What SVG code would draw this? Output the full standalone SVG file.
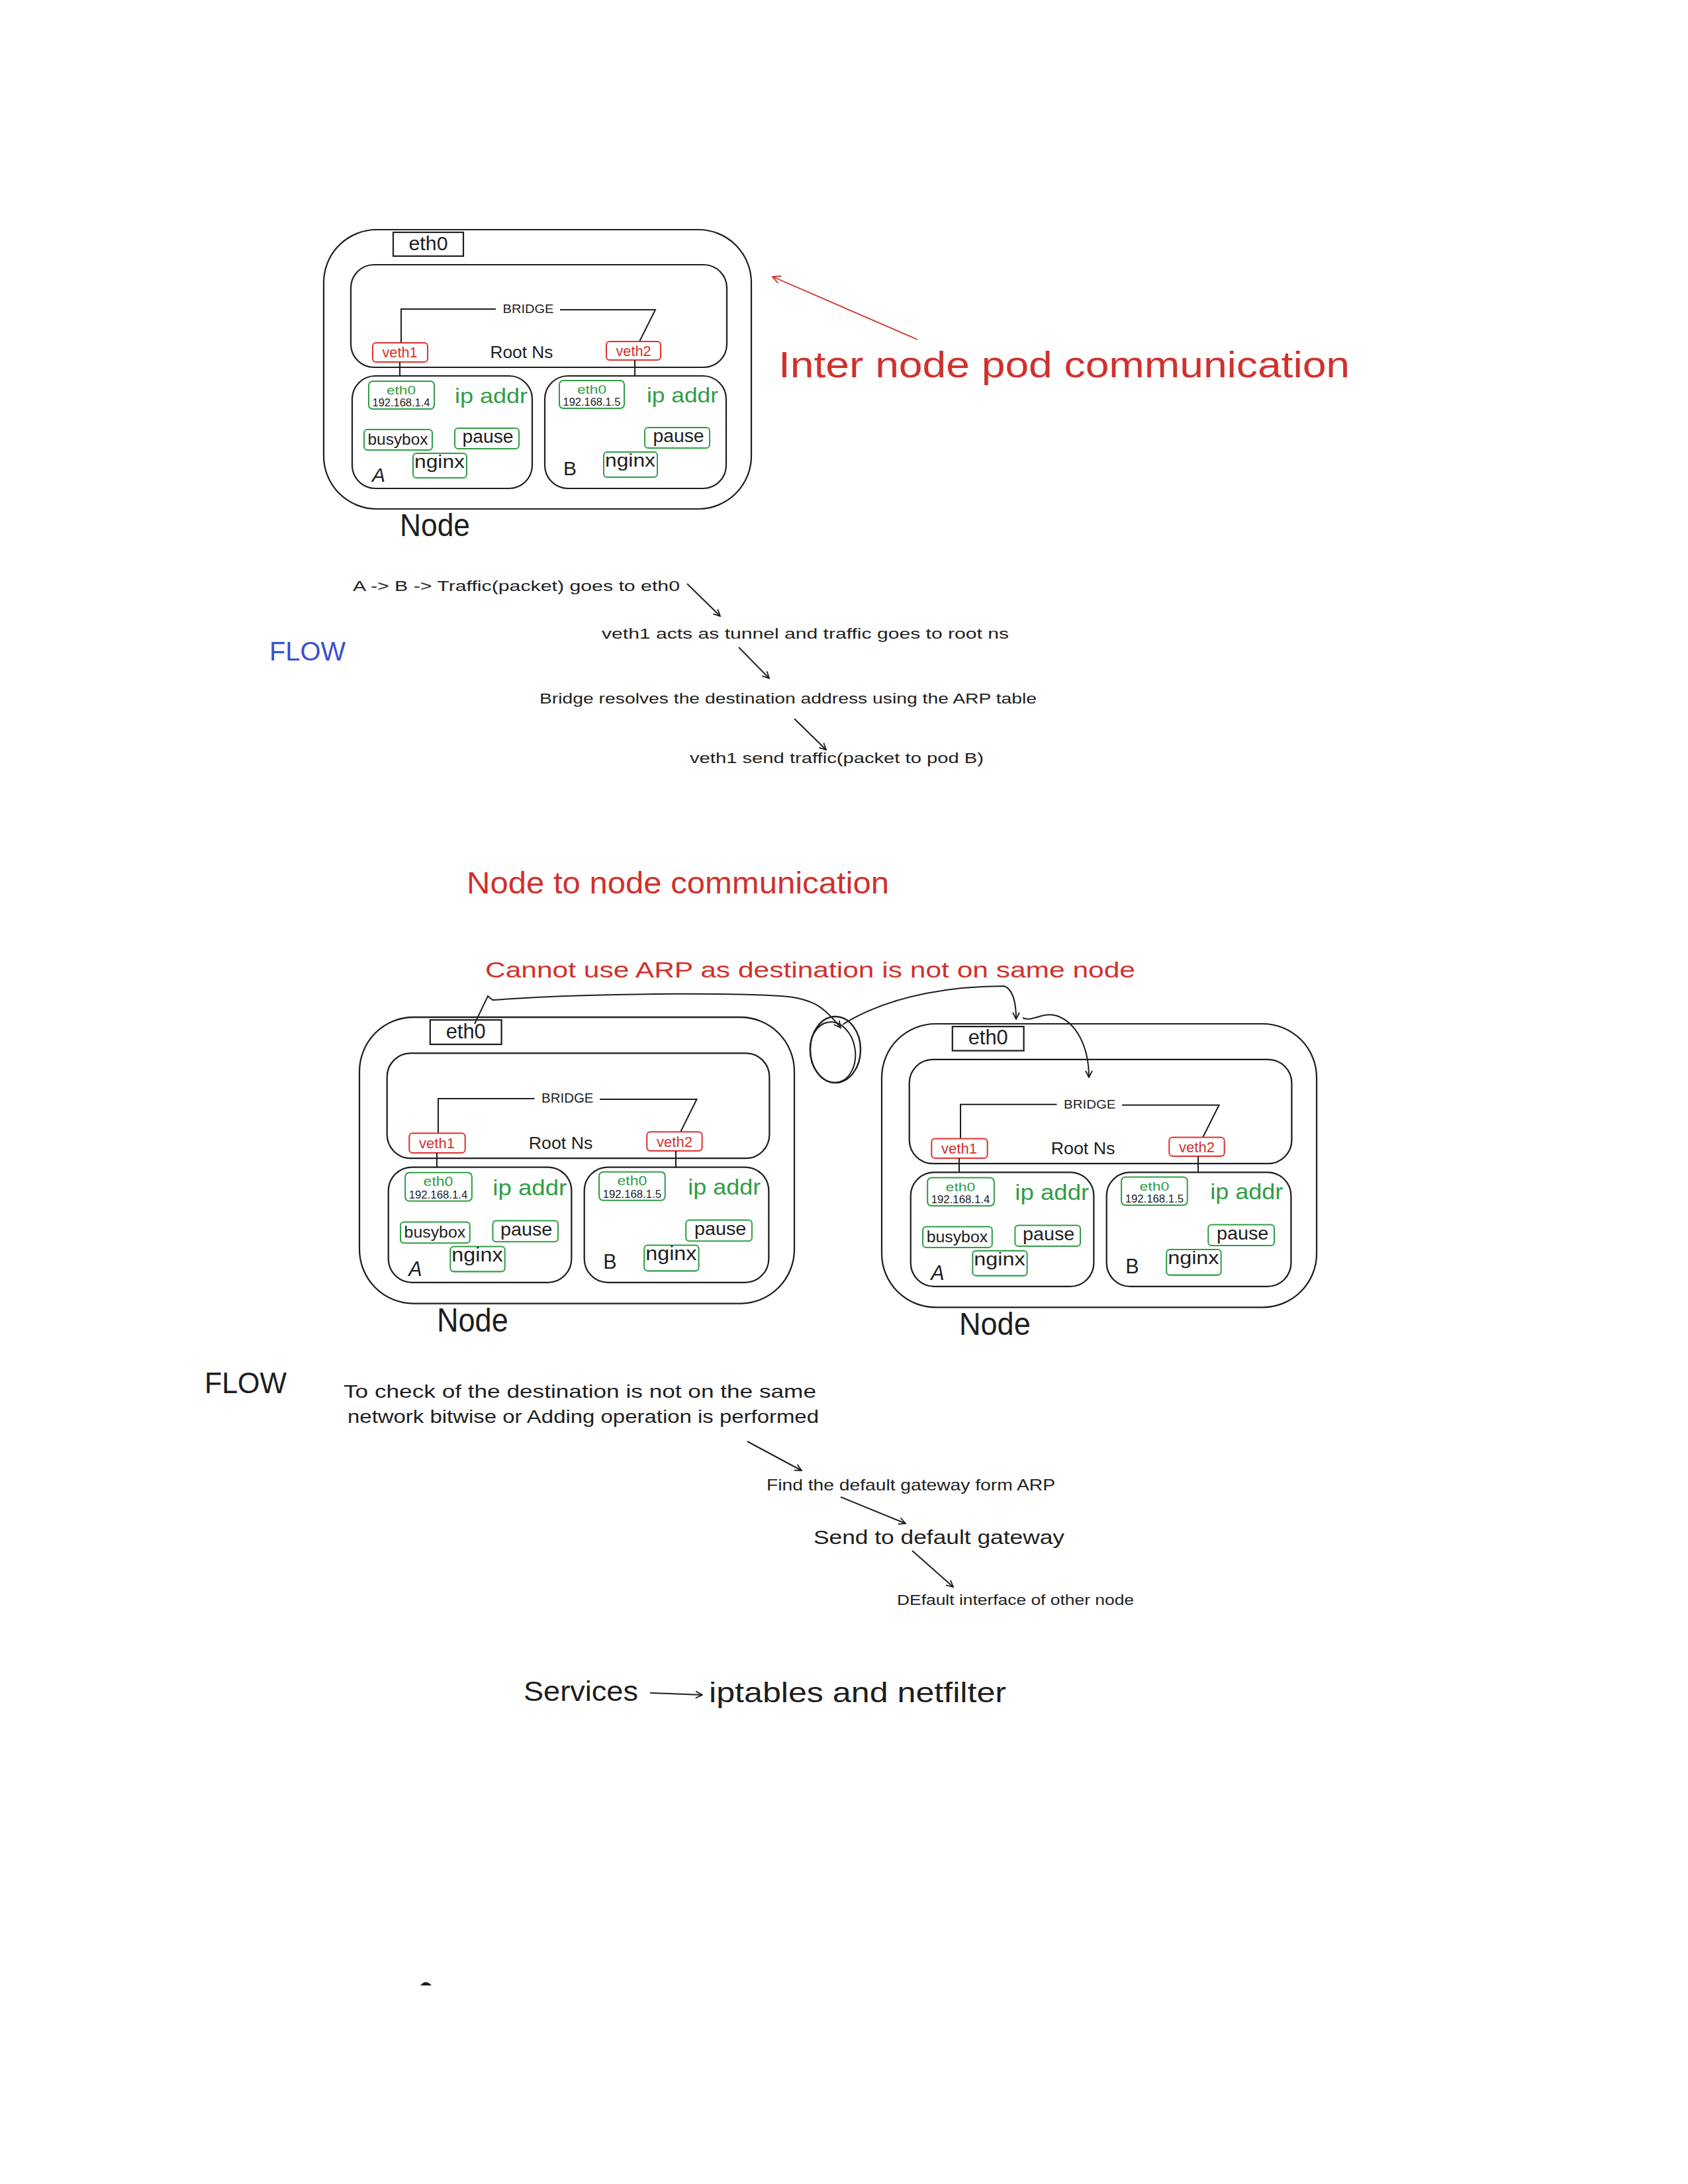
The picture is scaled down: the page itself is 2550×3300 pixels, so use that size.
<svg xmlns="http://www.w3.org/2000/svg" width="2550" height="3300" viewBox="0 0 2550 3300">
<style>
text{font-family:"Liberation Sans",Arial,sans-serif;fill:#1e1e1e}
.box{fill:none;stroke:#1e1e1e;stroke-width:2.2}
.gbox{fill:none;stroke:#2f9e44;stroke-width:2}
.rbox{fill:none;stroke:#e03131;stroke-width:2}
.ln{fill:none;stroke:#1e1e1e;stroke-width:2}
.c{text-anchor:middle}
.red{fill:#d0312d}
.green{fill:#2f9e44}
.blue{fill:#3b4fd0}
.arr{fill:none;stroke:#1e1e1e;stroke-width:2;marker-end:url(#ah)}
.rarr{fill:none;stroke:#d0312d;stroke-width:1.8;marker-end:url(#rah)}
</style>
<defs>
<marker id="ah" viewBox="0 0 12 12" refX="11" refY="6" markerWidth="12" markerHeight="12" markerUnits="userSpaceOnUse" orient="auto"><path d="M1,1 L11,6 L1,11" fill="none" stroke="#1e1e1e" stroke-width="1.8"/></marker>
<marker id="rah" viewBox="0 0 12 12" refX="11" refY="6" markerWidth="14" markerHeight="14" markerUnits="userSpaceOnUse" orient="auto"><path d="M1,1 L11,6 L1,11" fill="none" stroke="#d0312d" stroke-width="1.6"/></marker>
</defs>
<rect width="2550" height="3300" fill="#ffffff"/>

<!-- Node 1 (top) -->
<g id="node-top" transform="translate(489,347)">
<rect class="box" x="0" y="0" width="646" height="422" rx="80"/>
<rect class="box" x="105" y="4" width="106" height="36"/>
<text class="c" x="158" y="31" font-size="30" textLength="59" lengthAdjust="spacingAndGlyphs">eth0</text>
<rect class="box" x="41" y="53" width="568" height="155" rx="35"/>
<path class="ln" d="M117,171 V120 H260 M357,121 H501 L477,169"/>
<text class="c" x="309" y="126" font-size="19" textLength="77" lengthAdjust="spacingAndGlyphs">BRIDGE</text>
<rect class="rbox" x="74" y="171" width="83" height="29" rx="5"/>
<text class="c red" x="115" y="193" font-size="22" textLength="53" lengthAdjust="spacingAndGlyphs">veth1</text>
<text class="c" x="299" y="194" font-size="25" textLength="95" lengthAdjust="spacingAndGlyphs">Root Ns</text>
<rect class="rbox" x="427" y="169" width="82" height="28" rx="5"/>
<text class="c red" x="468" y="191" font-size="22" textLength="53" lengthAdjust="spacingAndGlyphs">veth2</text>
<path class="ln" d="M115,200 V221 M470,197 V221"/>
<g id="pod-a-top">
<rect class="box" x="43" y="221" width="272" height="170" rx="35"/>
<rect class="gbox" x="68" y="229" width="99" height="42" rx="6"/>
<text class="c green" x="117" y="249" font-size="19" textLength="44" lengthAdjust="spacingAndGlyphs">eth0</text>
<text class="c" x="117" y="267" font-size="16" textLength="87" lengthAdjust="spacingAndGlyphs">192.168.1.4</text>
<text class="green" x="198" y="262" font-size="32" textLength="110" lengthAdjust="spacingAndGlyphs">ip addr</text>
<rect class="gbox" x="61" y="302" width="103" height="31" rx="5"/>
<text class="c" x="112" y="325" font-size="24" textLength="91" lengthAdjust="spacingAndGlyphs">busybox</text>
<rect class="gbox" x="198" y="300" width="97" height="31" rx="5"/>
<text class="c" x="248" y="322" font-size="27" textLength="77" lengthAdjust="spacingAndGlyphs">pause</text>
<rect class="gbox" x="135" y="338" width="81" height="37" rx="5"/>
<text class="c" x="175" y="360" font-size="28" textLength="76" lengthAdjust="spacingAndGlyphs">nginx</text>
<text x="73" y="381" font-size="30" font-style="italic">A</text>
</g>
<g id="pod-b-top">
<rect class="box" x="334" y="221" width="274" height="170" rx="35"/>
<rect class="gbox" x="356" y="228" width="98" height="42" rx="6"/>
<text class="c green" x="405" y="248" font-size="19" textLength="44" lengthAdjust="spacingAndGlyphs">eth0</text>
<text class="c" x="405" y="266" font-size="16" textLength="87" lengthAdjust="spacingAndGlyphs">192.168.1.5</text>
<text class="green" x="488" y="261" font-size="32" textLength="108" lengthAdjust="spacingAndGlyphs">ip addr</text>
<rect class="gbox" x="485" y="299" width="98" height="31" rx="5"/>
<text class="c" x="536" y="321" font-size="27" textLength="77" lengthAdjust="spacingAndGlyphs">pause</text>
<rect class="gbox" x="423" y="336" width="81" height="38" rx="5"/>
<text class="c" x="463" y="358" font-size="28" textLength="76" lengthAdjust="spacingAndGlyphs">nginx</text>
<text x="362" y="371" font-size="30">B</text>
</g>
<text x="115" y="463" font-size="48" textLength="106" lengthAdjust="spacingAndGlyphs">Node</text>
</g>

<!-- Node 2 (bottom left) -->
<g id="node-left" transform="translate(543,1537) scale(1.017,1.025)">
<rect class="box" x="0" y="0" width="646" height="422" rx="80"/>
<rect class="box" x="105" y="4" width="106" height="36"/>
<text class="c" x="158" y="31" font-size="30" textLength="59" lengthAdjust="spacingAndGlyphs">eth0</text>
<rect class="box" x="41" y="53" width="568" height="155" rx="35"/>
<path class="ln" d="M117,171 V120 H260 M357,121 H501 L477,169"/>
<text class="c" x="309" y="126" font-size="19" textLength="77" lengthAdjust="spacingAndGlyphs">BRIDGE</text>
<rect class="rbox" x="74" y="171" width="83" height="29" rx="5"/>
<text class="c red" x="115" y="193" font-size="22" textLength="53" lengthAdjust="spacingAndGlyphs">veth1</text>
<text class="c" x="299" y="194" font-size="25" textLength="95" lengthAdjust="spacingAndGlyphs">Root Ns</text>
<rect class="rbox" x="427" y="169" width="82" height="28" rx="5"/>
<text class="c red" x="468" y="191" font-size="22" textLength="53" lengthAdjust="spacingAndGlyphs">veth2</text>
<path class="ln" d="M115,200 V221 M470,197 V221"/>
<g id="pod-a-left">
<rect class="box" x="43" y="221" width="272" height="170" rx="35"/>
<rect class="gbox" x="68" y="229" width="99" height="42" rx="6"/>
<text class="c green" x="117" y="249" font-size="19" textLength="44" lengthAdjust="spacingAndGlyphs">eth0</text>
<text class="c" x="117" y="267" font-size="16" textLength="87" lengthAdjust="spacingAndGlyphs">192.168.1.4</text>
<text class="green" x="198" y="262" font-size="32" textLength="110" lengthAdjust="spacingAndGlyphs">ip addr</text>
<rect class="gbox" x="61" y="302" width="103" height="31" rx="5"/>
<text class="c" x="112" y="325" font-size="24" textLength="91" lengthAdjust="spacingAndGlyphs">busybox</text>
<rect class="gbox" x="198" y="300" width="97" height="31" rx="5"/>
<text class="c" x="248" y="322" font-size="27" textLength="77" lengthAdjust="spacingAndGlyphs">pause</text>
<rect class="gbox" x="135" y="338" width="81" height="37" rx="5"/>
<text class="c" x="175" y="360" font-size="28" textLength="76" lengthAdjust="spacingAndGlyphs">nginx</text>
<text x="73" y="381" font-size="30" font-style="italic">A</text>
</g>
<g id="pod-b-left">
<rect class="box" x="334" y="221" width="274" height="170" rx="35"/>
<rect class="gbox" x="356" y="228" width="98" height="42" rx="6"/>
<text class="c green" x="405" y="248" font-size="19" textLength="44" lengthAdjust="spacingAndGlyphs">eth0</text>
<text class="c" x="405" y="266" font-size="16" textLength="87" lengthAdjust="spacingAndGlyphs">192.168.1.5</text>
<text class="green" x="488" y="261" font-size="32" textLength="108" lengthAdjust="spacingAndGlyphs">ip addr</text>
<rect class="gbox" x="485" y="299" width="98" height="31" rx="5"/>
<text class="c" x="536" y="321" font-size="27" textLength="77" lengthAdjust="spacingAndGlyphs">pause</text>
<rect class="gbox" x="423" y="336" width="81" height="38" rx="5"/>
<text class="c" x="463" y="358" font-size="28" textLength="76" lengthAdjust="spacingAndGlyphs">nginx</text>
<text x="362" y="371" font-size="30">B</text>
</g>
<text x="115" y="463" font-size="48" textLength="106" lengthAdjust="spacingAndGlyphs">Node</text>
</g>

<!-- Node 3 (bottom right) -->
<g id="node-right" transform="translate(1332,1547) scale(1.017,1.015)">
<rect class="box" x="0" y="0" width="646" height="422" rx="80"/>
<rect class="box" x="105" y="4" width="106" height="36"/>
<text class="c" x="158" y="31" font-size="30" textLength="59" lengthAdjust="spacingAndGlyphs">eth0</text>
<rect class="box" x="41" y="53" width="568" height="155" rx="35"/>
<path class="ln" d="M117,171 V120 H260 M357,121 H501 L477,169"/>
<text class="c" x="309" y="126" font-size="19" textLength="77" lengthAdjust="spacingAndGlyphs">BRIDGE</text>
<rect class="rbox" x="74" y="171" width="83" height="29" rx="5"/>
<text class="c red" x="115" y="193" font-size="22" textLength="53" lengthAdjust="spacingAndGlyphs">veth1</text>
<text class="c" x="299" y="194" font-size="25" textLength="95" lengthAdjust="spacingAndGlyphs">Root Ns</text>
<rect class="rbox" x="427" y="169" width="82" height="28" rx="5"/>
<text class="c red" x="468" y="191" font-size="22" textLength="53" lengthAdjust="spacingAndGlyphs">veth2</text>
<path class="ln" d="M115,200 V221 M470,197 V221"/>
<g id="pod-a-right">
<rect class="box" x="43" y="221" width="272" height="170" rx="35"/>
<rect class="gbox" x="68" y="229" width="99" height="42" rx="6"/>
<text class="c green" x="117" y="249" font-size="19" textLength="44" lengthAdjust="spacingAndGlyphs">eth0</text>
<text class="c" x="117" y="267" font-size="16" textLength="87" lengthAdjust="spacingAndGlyphs">192.168.1.4</text>
<text class="green" x="198" y="262" font-size="32" textLength="110" lengthAdjust="spacingAndGlyphs">ip addr</text>
<rect class="gbox" x="61" y="302" width="103" height="31" rx="5"/>
<text class="c" x="112" y="325" font-size="24" textLength="91" lengthAdjust="spacingAndGlyphs">busybox</text>
<rect class="gbox" x="198" y="300" width="97" height="31" rx="5"/>
<text class="c" x="248" y="322" font-size="27" textLength="77" lengthAdjust="spacingAndGlyphs">pause</text>
<rect class="gbox" x="135" y="338" width="81" height="37" rx="5"/>
<text class="c" x="175" y="360" font-size="28" textLength="76" lengthAdjust="spacingAndGlyphs">nginx</text>
<text x="73" y="381" font-size="30" font-style="italic">A</text>
</g>
<g id="pod-b-right">
<rect class="box" x="334" y="221" width="274" height="170" rx="35"/>
<rect class="gbox" x="356" y="228" width="98" height="42" rx="6"/>
<text class="c green" x="405" y="248" font-size="19" textLength="44" lengthAdjust="spacingAndGlyphs">eth0</text>
<text class="c" x="405" y="266" font-size="16" textLength="87" lengthAdjust="spacingAndGlyphs">192.168.1.5</text>
<text class="green" x="488" y="261" font-size="32" textLength="108" lengthAdjust="spacingAndGlyphs">ip addr</text>
<rect class="gbox" x="485" y="299" width="98" height="31" rx="5"/>
<text class="c" x="536" y="321" font-size="27" textLength="77" lengthAdjust="spacingAndGlyphs">pause</text>
<rect class="gbox" x="423" y="336" width="81" height="38" rx="5"/>
<text class="c" x="463" y="358" font-size="28" textLength="76" lengthAdjust="spacingAndGlyphs">nginx</text>
<text x="362" y="371" font-size="30">B</text>
</g>
<text x="115" y="463" font-size="48" textLength="106" lengthAdjust="spacingAndGlyphs">Node</text>
</g>

<!-- Labels -->
<g id="labels">
<text class="red" x="1176" y="570" font-size="56" textLength="863" lengthAdjust="spacingAndGlyphs">Inter node pod communication</text>
<text class="blue" x="407" y="998" font-size="40" textLength="115" lengthAdjust="spacingAndGlyphs">FLOW</text>
<text x="533" y="893" font-size="22" textLength="494" lengthAdjust="spacingAndGlyphs">A -&gt; B -&gt; Traffic(packet) goes to eth0</text>
<text x="909" y="965" font-size="22" textLength="615" lengthAdjust="spacingAndGlyphs">veth1 acts as tunnel and traffic goes to root ns</text>
<text x="815" y="1063" font-size="22" textLength="751" lengthAdjust="spacingAndGlyphs">Bridge resolves the destination address using the ARP table</text>
<text x="1042" y="1153" font-size="22" textLength="444" lengthAdjust="spacingAndGlyphs">veth1 send traffic(packet to pod B)</text>
<text class="red" x="705" y="1350" font-size="46" textLength="638" lengthAdjust="spacingAndGlyphs">Node to node communication</text>
<text class="red" x="733" y="1477" font-size="34" textLength="982" lengthAdjust="spacingAndGlyphs">Cannot use ARP as destination is not on same node</text>
<text x="309" y="2105" font-size="44" textLength="124" lengthAdjust="spacingAndGlyphs">FLOW</text>
<text x="519" y="2112" font-size="28" textLength="714" lengthAdjust="spacingAndGlyphs">To check of the destination is not on the same</text>
<text x="525" y="2150" font-size="28" textLength="712" lengthAdjust="spacingAndGlyphs">network bitwise or Adding operation is performed</text>
<text x="1158" y="2252" font-size="24" textLength="436" lengthAdjust="spacingAndGlyphs">Find the default gateway form ARP</text>
<text x="1229" y="2333" font-size="30" textLength="379" lengthAdjust="spacingAndGlyphs">Send to default gateway</text>
<text x="1355" y="2425" font-size="22" textLength="358" lengthAdjust="spacingAndGlyphs">DEfault interface of other node</text>
<text x="791" y="2570" font-size="42" textLength="173" lengthAdjust="spacingAndGlyphs">Services</text>
<text x="1071" y="2572" font-size="42" textLength="449" lengthAdjust="spacingAndGlyphs">iptables and netfilter</text>
</g>

<!-- Connectors -->
<g id="connectors">
<path class="rarr" d="M1386,513 L1167,418"/>
<path class="arr" d="M1038,882 L1088,931"/>
<path class="arr" d="M1116,978 L1162,1025"/>
<path class="arr" d="M1200,1086 L1248,1133"/>
<path class="arr" d="M1129,2178 L1211,2222"/>
<path class="arr" d="M1270,2262 L1368,2302"/>
<path class="arr" d="M1378,2343 L1440,2398"/>
<path class="arr" d="M982,2558 L1061,2561"/>
<path class="arr" d="M717,1547 L737,1505 L744,1511 C900,1500 1100,1500 1180,1505 C1230,1508 1248,1525 1270,1553"/>
<ellipse cx="1262" cy="1586" rx="38" ry="50" fill="none" stroke="#1e1e1e" stroke-width="2.4"/>
<ellipse cx="1258" cy="1590" rx="34" ry="46" fill="none" stroke="#1e1e1e" stroke-width="2" transform="rotate(-8 1258 1590)"/>
<path class="arr" d="M1273,1548 C1350,1500 1450,1490 1517,1490 C1530,1495 1535,1515 1535,1540"/>
<path class="arr" d="M1545,1538 C1560,1545 1575,1528 1597,1535 C1625,1545 1645,1580 1645,1628"/>
<path d="M635,3000 Q643,2990 652,3000 Z" fill="#1e1e1e"/>
</g>
</svg>
